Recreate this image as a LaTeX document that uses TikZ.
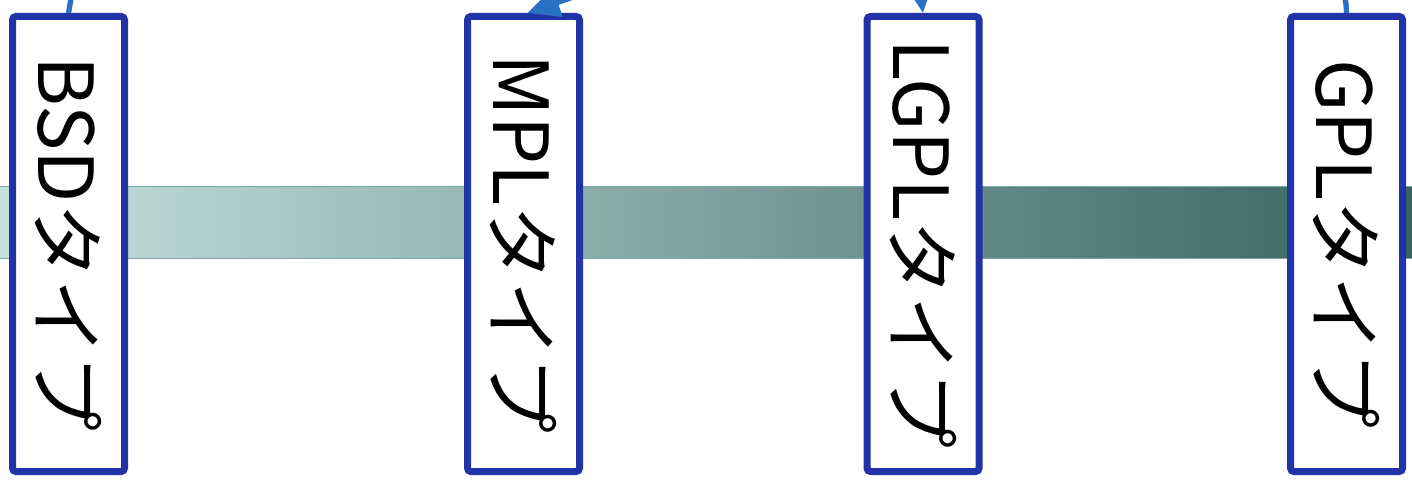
\documentclass[tikz,border=0pt]{standalone}
\usepackage{fontspec}
\newfontfamily\jp{Noto Sans CJK JP}
\usetikzlibrary{arrows.meta}
\definecolor{boxblue}{RGB}{34,51,168}
\definecolor{linkblue}{RGB}{40,112,196}
\definecolor{barL}{RGB}{198,226,222}
\definecolor{barR}{RGB}{54,98,92}
\definecolor{barEdge}{RGB}{120,170,165}
\tikzset{
  lic/.style={draw=boxblue, line width=5.25pt, fill=white, rounded corners=2.5pt,
    rotate=-90, minimum width=341.25pt, minimum height=84pt, inner sep=0pt,
    font=\jp\fontsize{57}{62}\selectfont, text=black},
  link/.style={draw=linkblue, line width=4pt},
  linkarrow/.style={link, -{Triangle[length=24pt,width=22pt]}}
}
\begin{document}
\begin{tikzpicture}[x=0.75pt,y=-0.75pt]
\useasboundingbox (0,0) rectangle (1412,484);
\clip (0,0) rectangle (1412,484);
\shade[left color=barL, right color=barR] (-5,187) rectangle (1420,259);
\draw[barEdge, line width=0.75pt] (-5,187) rectangle (1420,259);
\node[lic] (bsd) at (68.5,244) {BSDタイプ};
\node[lic] (mpl) at (523.5,244) {MPLタイプ};
\node[lic] (lgpl) at (923,244) {LGPLタイプ};
\node[lic] (gpl) at (1346.5,244) {GPLタイプ};
\coordinate (b0) at (76,-30);
\coordinate (m0) at (650,-30);
\coordinate (l0) at (915,-50);
\coordinate (g0) at (1335,-30);
\draw[link] (bsd.west) -- (b0);
\draw[linkarrow] (m0) -- ([xshift=3pt]mpl.west);
\draw[linkarrow] (l0) -- (lgpl.west);
\draw[link] (gpl.west) .. controls (1346,0) .. (g0);
\end{tikzpicture}
\end{document}
